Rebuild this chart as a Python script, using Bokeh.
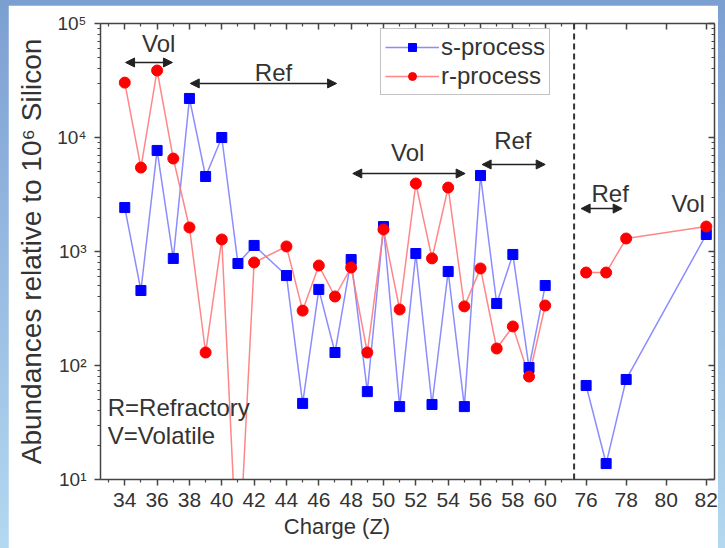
from bokeh.plotting import figure
from bokeh.models import (LinearAxis, LogAxis, FixedTicker, Span, Arrow, NormalHead,
                          Label, Legend, LegendItem, ColumnDataSource, Range1d,
                          CustomJSTickFormatter, CustomLabelingPolicy)
from bokeh.layouts import row
from bokeh.embed import file_html
from bokeh.resources import INLINE

# ---------------- data ----------------
charge = [34, 35, 36, 37, 38, 39, 40, 41, 42, 44, 45, 46, 47, 48, 49, 50, 51, 52, 53,
          54, 55, 56, 57, 58, 59, 60, 76, 77, 78, 82]
s_process = [2430, 455, 7700, 869, 22000, 4550, 10000, 785, 1130, 615, 46.5, 465, 130,
             850, 59, 1655, 43.6, 960, 45.5, 668, 43.6, 4640, 350, 942, 96, 503,
             66.8, 13.8, 75.4, 1410]
r_process = [30300, 5450, 38700, 6540, 1625, 130, 1275, 1.3, 801, 1107, 303, 753, 403,
             724, 130, 1560, 310, 3950, 870, 3640, 330, 710, 141, 220, 80, 336,
             654, 654, 1300, 1655]

x_ticks_left = [34, 36, 38, 40, 42, 44, 46, 48, 50, 52, 54, 56, 58, 60]
x_ticks_right = [76, 78, 80, 82]
y_ticks = [10, 100, 1000, 10000, 100000]

# group annotations: (label, Z start, Z end, arrow level, text Z, text level)
groups_left = [("Vol", 34.05, 36.95, 45500, 36.1, 66800),
               ("Ref", 38.05, 47.1, 29800, 43.2, 37200),
               ("Vol", 48.1, 55.05, 4830, 51.5, 7390),
               ("Ref", 56.1, 60.0, 5800, 58.0, 9420)]
groups_right = [("Ref", 75.75, 77.8, 2380, 77.2, 3230)]
right_text = [("Vol", 81.1, 2640)]

FONT = "Liberation Sans"
TXT = "#333333"
AX = "#444444"

split = 70
left_src = ColumnDataSource(dict(
    z=[c for c in charge if c < split],
    s=[v for c, v in zip(charge, s_process) if c < split],
    r=[v for c, v in zip(charge, r_process) if c < split]))
right_src = ColumnDataSource(dict(
    z=[c for c in charge if c > split],
    s=[v for c, v in zip(charge, s_process) if c > split],
    r=[v for c, v in zip(charge, r_process) if c > split]))

y_range = Range1d(10, 100000)
y_minor = [k * 10 ** e for e in range(1, 5) for k in range(2, 10)]

sup_js = """
const sup = {1:'\\u00b9',2:'\\u00b2',3:'\\u00b3',4:'\\u2074',5:'\\u2075',6:'\\u2076'};
const e = Math.round(Math.log10(tick));
return '10' + sup[e];
"""

no_labels_js = """
const all = [...indices];
for (const i of all) indices.unset(i);
return indices;
"""


def style_axis(ax, labels=True, out=True):
    ax.axis_line_color = AX
    ax.axis_line_width = 1.5
    ax.major_tick_line_color = AX
    ax.minor_tick_line_color = AX
    ax.major_tick_line_width = 1.5
    ax.minor_tick_line_width = 1.2
    ax.major_label_text_font = FONT
    ax.major_label_text_color = TXT
    if out:
        ax.major_tick_out, ax.major_tick_in = 6, 0
        ax.minor_tick_out, ax.minor_tick_in = 3, 0
    else:
        ax.major_tick_out, ax.major_tick_in = 0, 6
        ax.minor_tick_out, ax.minor_tick_in = 0, 3
    if not labels:
        ax.major_label_policy = CustomLabelingPolicy(code=no_labels_js)
        ax.major_label_text_font_size = "1px"
        ax.major_label_standoff = 0


def base_fig(width, xr, mb_left, mb_right, margin):
    p = figure(width=width, height=543, x_range=xr, y_range=y_range,
               y_axis_type="log", x_axis_location=None, y_axis_location=None,
               toolbar_location=None, output_backend="svg",
               min_border_left=mb_left, min_border_right=mb_right,
               min_border_top=18, min_border_bottom=69,
               outline_line_color=None, border_fill_color="white",
               background_fill_color="white", margin=margin)
    p.grid.grid_line_color = None
    return p


def draw(p, src):
    sl = p.line("z", "s", source=src, line_color="#7878ff", line_width=1.5, line_alpha=0.85)
    rl = p.line("z", "r", source=src, line_color="#ff7a7a", line_width=1.5, line_alpha=0.9)
    ss = p.scatter("z", "s", source=src, marker="square", size=10,
                   fill_color="#0000ff", line_color="#0000ff")
    rs = p.scatter("z", "r", source=src, marker="circle", size=11,
                   fill_color="#ff0000", line_color="#ff0000")
    return sl, rl, ss, rs


def add_groups(p, groups):
    for name, z0, z1, yl, zt, yt in groups:
        p.add_layout(Arrow(start=NormalHead(size=9, fill_color="#222222", line_color="#222222"),
                           end=NormalHead(size=9, fill_color="#222222", line_color="#222222"),
                           x_start=z0, y_start=yl, x_end=z1, y_end=yl,
                           line_color="#222222", line_width=1.5))
        p.add_layout(Label(x=zt, y=yt, text=name, text_align="center",
                           text_baseline="middle", text_font=FONT,
                           text_font_size="24px", text_color=TXT))


# ---------------- left panel ----------------
left = base_fig(565, Range1d(32.5, 61.75), 92, 0, (5, 0, 0, 8))
sl, rl, ss, rs = draw(left, left_src)

ya = LogAxis(ticker=FixedTicker(ticks=y_ticks, minor_ticks=y_minor),
             formatter=CustomJSTickFormatter(code=sup_js),
             axis_label="Abundances relative to 10\u2076 Silicon")
style_axis(ya)
ya.major_label_text_font_size = "19px"
ya.major_label_standoff = 8
ya.axis_label_text_font = FONT
ya.axis_label_text_font_size = "28px"
ya.axis_label_text_font_style = "normal"
ya.axis_label_text_color = TXT
ya.axis_label_standoff = 7
left.add_layout(ya, "left")

odd_left = list(range(33, 62, 2))
xb = LinearAxis(ticker=FixedTicker(ticks=x_ticks_left, minor_ticks=odd_left),
                axis_label="Charge (Z)")
style_axis(xb)
xb.major_label_text_font_size = "21px"
xb.major_label_standoff = 7
xb.axis_label_text_font = FONT
xb.axis_label_text_font_size = "22px"
xb.axis_label_text_font_style = "normal"
xb.axis_label_text_color = TXT
xb.axis_label_standoff = 4
left.add_layout(xb, "below")

xt = LinearAxis(ticker=FixedTicker(ticks=x_ticks_left, minor_ticks=odd_left))
style_axis(xt, labels=False, out=False)
left.add_layout(xt, "above")

add_groups(left, groups_left)
left.add_layout(Label(x=32.95, y=42.8, text="R=Refractory", text_align="left",
                      text_baseline="middle", text_font=FONT, text_font_size="24px",
                      text_color=TXT))
left.add_layout(Label(x=32.95, y=24.3, text="V=Volatile", text_align="left",
                      text_baseline="middle", text_font=FONT, text_font_size="24px",
                      text_color=TXT))

legend = Legend(items=[LegendItem(label="s-process", renderers=[sl, ss]),
                       LegendItem(label="r-process", renderers=[rl, rs])],
                location=(280, 384), label_text_font=FONT, label_text_font_size="24px",
                label_text_color=TXT, border_line_color="#888888", border_line_width=1.5,
                background_fill_color="white", glyph_width=54, glyph_height=20,
                label_standoff=2, padding=4, spacing=1, margin=0, label_height=20)
left.add_layout(legend)

# ---------------- right panel ----------------
right = base_fig(146, Range1d(75.32, 82.41), 0, 3, (5, 7, 0, -1))
draw(right, right_src)

xb2 = LinearAxis(ticker=FixedTicker(ticks=x_ticks_right, minor_ticks=[]))
style_axis(xb2)
xb2.major_label_text_font_size = "21px"
xb2.major_label_standoff = 7
right.add_layout(xb2, "below")

xt2 = LinearAxis(ticker=FixedTicker(ticks=x_ticks_right, minor_ticks=[]))
style_axis(xt2, labels=False, out=False)
right.add_layout(xt2, "above")

yr2 = LogAxis(ticker=FixedTicker(ticks=y_ticks, minor_ticks=y_minor))
style_axis(yr2, labels=False, out=False)
right.add_layout(yr2, "right")

right.add_layout(Span(location=75.4, dimension="height", line_color="#333333",
                      line_width=2, line_dash="6 4"))
add_groups(right, groups_right)
for name, zt, yt in right_text:
    right.add_layout(Label(x=zt, y=yt, text=name, text_align="center",
                           text_baseline="middle", text_font=FONT,
                           text_font_size="24px", text_color=TXT))

layout = row(left, right, styles={"background": "linear-gradient(to bottom, #7c9fd2, #b3d8f0)"})

open("out.html", "w").write(file_html(layout, INLINE))
